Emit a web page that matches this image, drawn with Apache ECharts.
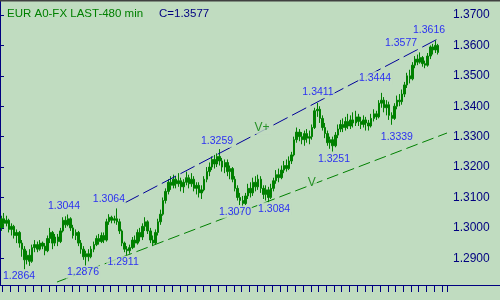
<!DOCTYPE html>
<html><head><meta charset="utf-8">
<script src="https://cdn.jsdelivr.net/npm/echarts@6/dist/echarts.min.js"></script>
<style>html,body{margin:0;padding:0;background:#c0dcc0}#c{width:500px;height:300px}</style>
</head><body><div id="c"></div>
<script>
// ---- data (EUR A0-FX, 480 min bars) ----
const opens = [
1.3000,1.3030,1.3015,1.3025,1.2995,1.3005,1.2975,1.2985,1.2950,
1.2930,1.2895,1.2910,1.2890,1.2935,
1.2945,1.2930,1.2950,1.2940,1.2925,1.2965,1.2985,1.2950,
1.2970,1.2955,1.2990,1.3025,1.3010,
1.3030,1.3000,1.2975,1.2985,1.2950,1.2930,1.2905,
1.2915,1.2905,1.2930,1.2945,1.2965,1.2955,1.2975,1.2960,1.3020,1.3035,
1.3025,1.3030,1.3020,1.2990,1.2950,1.2930,1.2925,
1.2935,1.2960,1.2950,1.2985,1.2970,1.3005,1.3020,1.2990,1.2960,1.2950,1.2985,1.3020,
1.3045,1.3090,1.3120,1.3150,
1.3140,1.3160,1.3145,1.3155,1.3135,1.3150,1.3165,1.3145,1.3160,1.3130,1.3140,1.3115,1.3125,1.3160,
1.3185,1.3200,1.3225,1.3210,1.3235,1.3220,1.3200,1.3215,
1.3185,1.3195,1.3160,1.3130,1.3100,1.3090,1.3080,
1.3105,1.3130,1.3115,1.3150,1.3135,1.3160,1.3130,1.3110,1.3125,1.3100,
1.3130,1.3155,1.3175,1.3165,1.3190,1.3205,1.3195,1.3220,1.3240,1.3290,1.3315,1.3300,1.3290,
1.3310,1.3295,1.3300,1.3330,1.3385,1.3390,
1.3360,1.3330,1.3310,1.3280,1.3290,1.3270,1.3305,
1.3325,1.3340,1.3330,1.3350,1.3335,1.3355,1.3345,1.3365,1.3350,1.3340,1.3355,1.3345,1.3335,1.3360,1.3375,1.3365,
1.3410,1.3420,1.3395,1.3405,1.3370,1.3360,1.3400,1.3420,1.3415,1.3440,
1.3470,1.3500,1.3490,1.3535,1.3555,1.3545,
1.3560,1.3540,1.3535,1.3565,1.3595,1.3585,1.3600
];
const closes = [
1.3030,1.3015,1.3025,1.2995,1.3005,1.2975,1.2985,1.2950,1.2930,
1.2895,1.2910,1.2890,1.2935,1.2945,
1.2930,1.2950,1.2940,1.2925,1.2965,1.2985,1.2950,1.2970,
1.2955,1.2990,1.3025,1.3010,1.3030,
1.3000,1.2975,1.2985,1.2950,1.2930,1.2905,1.2915,
1.2905,1.2930,1.2945,1.2965,1.2955,1.2975,1.2960,1.3020,1.3035,1.3025,
1.3030,1.3020,1.2990,1.2950,1.2930,1.2925,1.2935,
1.2960,1.2950,1.2985,1.2970,1.3005,1.3020,1.2990,1.2960,1.2950,1.2985,1.3020,1.3045,
1.3090,1.3120,1.3150,1.3140,
1.3160,1.3145,1.3155,1.3135,1.3150,1.3165,1.3145,1.3160,1.3130,1.3140,1.3115,1.3125,1.3160,1.3185,
1.3200,1.3225,1.3210,1.3235,1.3220,1.3200,1.3215,1.3185,
1.3195,1.3160,1.3130,1.3100,1.3090,1.3080,1.3105,
1.3130,1.3115,1.3150,1.3135,1.3160,1.3130,1.3110,1.3125,1.3100,1.3130,
1.3155,1.3175,1.3165,1.3190,1.3205,1.3195,1.3220,1.3240,1.3290,1.3315,1.3300,1.3290,1.3310,
1.3295,1.3300,1.3330,1.3385,1.3390,1.3360,
1.3330,1.3310,1.3280,1.3290,1.3270,1.3305,1.3325,
1.3340,1.3330,1.3350,1.3335,1.3355,1.3345,1.3365,1.3350,1.3340,1.3355,1.3345,1.3335,1.3360,1.3375,1.3365,1.3410,
1.3420,1.3395,1.3405,1.3370,1.3360,1.3400,1.3420,1.3415,1.3440,1.3470,
1.3500,1.3490,1.3535,1.3555,1.3545,1.3560,
1.3540,1.3535,1.3565,1.3595,1.3585,1.3600,1.3577
];
const lows = [
1.2990,1.3000,1.3005,1.2985,1.2975,1.2965,1.2950,1.2935,1.2905,
1.2864,1.2880,1.2875,1.2885,1.2920,
1.2920,1.2925,1.2930,1.2910,1.2920,1.2950,1.2930,1.2940,
1.2940,1.2950,1.2985,1.3000,1.3005,
1.2990,1.2965,1.2960,1.2940,1.2915,1.2895,1.2876,
1.2890,1.2900,1.2920,1.2940,1.2945,1.2950,1.2950,1.2955,1.3010,1.3015,
1.3015,1.3010,1.2980,1.2940,1.2920,1.2911,1.2915,
1.2930,1.2935,1.2945,1.2955,1.2960,1.2990,1.2980,1.2950,1.2940,1.2945,1.2975,1.3010,
1.3040,1.3080,1.3110,1.3125,
1.3130,1.3130,1.3135,1.3120,1.3115,1.3140,1.3130,1.3135,1.3120,1.3110,1.3100,1.3095,1.3120,1.3150,
1.3170,1.3190,1.3195,1.3200,1.3205,1.3185,1.3180,1.3170,
1.3160,1.3150,1.3120,1.3090,1.3075,1.3070,1.3075,
1.3095,1.3100,1.3105,1.3120,1.3125,1.3115,1.3095,1.3090,1.3084,1.3095,
1.3120,1.3145,1.3150,1.3160,1.3180,1.3185,1.3190,1.3210,1.3235,1.3280,1.3285,1.3275,1.3270,
1.3280,1.3275,1.3290,1.3325,1.3365,1.3345,
1.3320,1.3295,1.3270,1.3260,1.3251,1.3265,1.3295,
1.3315,1.3315,1.3320,1.3325,1.3325,1.3330,1.3335,1.3335,1.3325,1.3330,1.3320,1.3320,1.3330,1.3350,1.3355,1.3360,
1.3395,1.3380,1.3370,1.3355,1.3339,1.3355,1.3390,1.3400,1.3405,1.3430,
1.3460,1.3475,1.3485,1.3525,1.3535,1.3540,
1.3530,1.3525,1.3530,1.3555,1.3570,1.3575,1.3570
];
const highs = [
1.3040,1.3049,1.3040,1.3030,1.3015,1.3010,1.2995,1.2990,1.2960,
1.2940,1.2925,1.2930,1.2945,1.2960,
1.2955,1.2960,1.2955,1.2950,1.2975,1.3000,1.2990,1.2980,
1.2980,1.3000,1.3035,1.3038,1.3044,
1.3035,1.3010,1.2995,1.2990,1.2960,1.2940,1.2925,
1.2930,1.2940,1.2955,1.2975,1.2980,1.2985,1.2985,1.3030,1.3045,1.3040,
1.3040,1.3064,1.3030,1.2995,1.2955,1.2940,1.2945,
1.2970,1.2975,1.2995,1.3000,1.3015,1.3035,1.3025,1.3000,1.2975,1.2995,1.3030,1.3060,
1.3100,1.3130,1.3160,1.3170,
1.3175,1.3170,1.3180,1.3165,1.3160,1.3185,1.3175,1.3180,1.3170,1.3150,1.3150,1.3140,1.3170,1.3200,
1.3215,1.3235,1.3240,1.3245,1.3259,1.3230,1.3225,1.3225,
1.3205,1.3200,1.3170,1.3140,1.3115,1.3105,1.3115,
1.3145,1.3150,1.3165,1.3170,1.3175,1.3170,1.3140,1.3140,1.3135,1.3145,
1.3165,1.3190,1.3195,1.3205,1.3220,1.3225,1.3235,1.3250,1.3300,1.3330,1.3325,1.3315,1.3320,
1.3325,1.3320,1.3340,1.3395,1.3411,1.3400,
1.3370,1.3345,1.3320,1.3300,1.3300,1.3315,1.3340,
1.3355,1.3360,1.3365,1.3375,1.3370,1.3380,1.3385,1.3375,1.3365,1.3370,1.3365,1.3355,1.3375,1.3390,1.3385,1.3420,
1.3444,1.3430,1.3420,1.3415,1.3380,1.3410,1.3435,1.3440,1.3455,1.3480,
1.3510,1.3520,1.3545,1.3565,1.3570,1.3577,
1.3565,1.3550,1.3575,1.3600,1.3605,1.3616,1.3605
];
const yTicks = [1.29, 1.30, 1.31, 1.32, 1.33, 1.34, 1.35, 1.36, 1.37];
// annotations: text, slot position, price position
const annotTexts = ['1.2864','1.3044','1.2876','1.3064','1.2911','1.3259','1.3070','1.3084','1.3411','1.3251','1.3444','1.3339','1.3577','1.3616'];
const annotX =     [7.4,    24.9,    32.3,    42.4,    47.9,    84.5,    91.5,    106.7,   123.8,   130.0,   146.0,   154.5,   156.1,   167.0];
const annotY =     [1.2841, 1.3071, 1.2854, 1.3093, 1.2887, 1.3285, 1.3052, 1.3063, 1.3448, 1.3226, 1.3494, 1.3299, 1.3609, 1.3651];
const trendNames = ['V+', 'V'];
const trendNameX = [102.0, 121.4];
const trendNameY = [1.3328, 1.3147];
const trendUpper = [[48.5, 1.3082], [171.5, 1.3626]];
const trendLower = [[22.2, 1.2822], [174.0, 1.3312]];
const titleText = 'EUR A0-FX LAST-480 min';
const lastText = 'C=1.3577';
const NSLOTS = 174;

const categories = [];
for (let i = 0; i < NSLOTS; i++) categories.push(String(i));
const candleData = opens.map((o, i) => [o, closes[i], lows[i], highs[i]]);

const BG = '#c0dcc0', GREEN = '#008000', NAVY = '#000080', BLUE = '#0000ff';
const FONT = '"Liberation Sans", Arial, sans-serif';

const chart = echarts.init(document.getElementById('c'), null, {renderer: 'canvas'});
chart.setOption({
  animation: false,
  backgroundColor: BG,
  title: [
    {text: titleText, left: 2, top: 3, textStyle: {color: GREEN, fontSize: 11.5, fontWeight: 'normal', fontFamily: FONT}},
    {text: lastText, left: 154, top: 3, textStyle: {color: NAVY, fontSize: 11.5, fontWeight: 'normal', fontFamily: FONT}}
  ],
  grid: {left: 0, right: 53, top: 0, bottom: 15, containLabel: false},
  xAxis: [
    {type: 'category', data: categories, boundaryGap: true,
     axisLine: {show: true, lineStyle: {color: NAVY, width: 1}},
     axisTick: {show: true, length: 7, interval: (i) => i % 3 === 1, lineStyle: {color: NAVY}},
     axisLabel: {show: false}, splitLine: {show: false}},
    {type: 'value', min: 0, max: NSLOTS, show: false, splitLine: {show: false}}
  ],
  yAxis: {
    type: 'value', position: 'right', min: 1.28122, max: 1.37493, scale: true,
    axisLine: {show: true, lineStyle: {color: NAVY, width: 1}},
    axisTick: {show: true, length: 4, customValues: yTicks, lineStyle: {color: NAVY}},
    axisLabel: {show: true, customValues: yTicks, margin: 6, color: NAVY, fontSize: 12, fontFamily: FONT,
                formatter: (v) => v.toFixed(4)},
    splitLine: {show: false}
  },
  series: [
    {type: 'candlestick', data: candleData, barWidth: 2, z: 2,
     itemStyle: {color: GREEN, color0: GREEN, borderColor: GREEN, borderColor0: GREEN, borderWidth: 1}},
    {type: 'line', xAxisIndex: 1, data: trendUpper, symbol: 'none', z: 3,
     lineStyle: {color: '#000099', width: 1, type: [16, 5]}},
    {type: 'line', xAxisIndex: 1, data: trendLower, symbol: 'none', z: 3,
     lineStyle: {color: GREEN, width: 1, type: [12, 5]}},
    {type: 'scatter', xAxisIndex: 1, z: 5, symbolSize: 1, itemStyle: {color: 'rgba(0,0,0,0)'},
     data: annotTexts.map((t, i) => ({name: t, value: [annotX[i], annotY[i]]})),
     label: {show: true, position: 'inside', formatter: (p) => p.name, color: BLUE, fontSize: 10.5,
             fontFamily: FONT, backgroundColor: BG, padding: [1, 1]}},
    {type: 'scatter', xAxisIndex: 1, z: 5, symbolSize: 1, itemStyle: {color: 'rgba(0,0,0,0)'},
     data: trendNames.map((t, i) => ({name: t, value: [trendNameX[i], trendNameY[i]]})),
     label: {show: true, position: 'inside', formatter: (p) => p.name, color: GREEN, fontSize: 12,
             fontFamily: FONT, backgroundColor: BG, padding: [0, 1]}}
  ],
  graphic: [
    {type: 'rect', shape: {x: 0, y: 0, width: 500, height: 1.5}, style: {fill: '#404040'}, z: 100},
    {type: 'line', shape: {x1: 447, y1: 285.5, x2: 500, y2: 285.5}, style: {stroke: NAVY, lineWidth: 1}, z: 100}
  ]
});
</script></body></html>
